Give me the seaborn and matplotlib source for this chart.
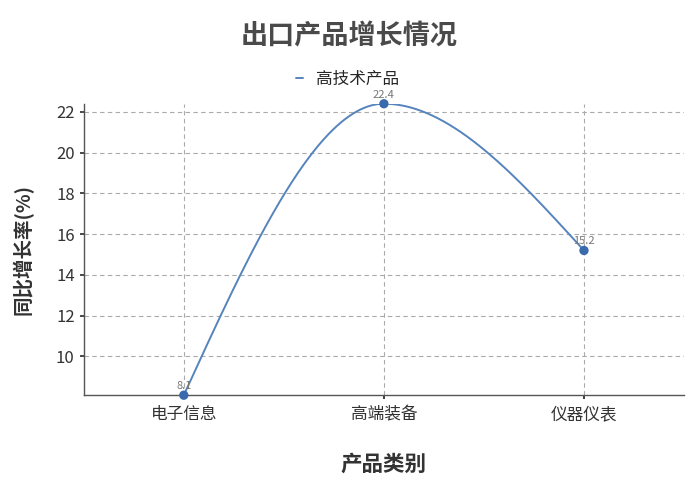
import numpy as np
import pandas as pd
import matplotlib.pyplot as plt
import seaborn as sns

categories = ["电子信息", "高端装备", "仪器仪表"]
growth = [8.1, 22.4, 15.2]
series_name = "高技术产品"

sns.set_theme(style="white")
plt.rcParams['font.family'] = ['Noto Sans CJK SC', 'DejaVu Sans']

df = pd.DataFrame({"类别": categories, "增长率": growth})
xpos = np.arange(len(categories))


def monotone_x(x, y, n=200):
    # same idea as d3 curveMonotoneX: flat at extrema, "natural" ends
    x = np.asarray(x, float)
    y = np.asarray(y, float)
    h = np.diff(x)
    d = np.diff(y) / h
    m = np.zeros_like(y)
    for i in range(1, len(y) - 1):
        p = (d[i - 1] * h[i] + d[i] * h[i - 1]) / (h[i - 1] + h[i])
        m[i] = (np.sign(d[i - 1]) + np.sign(d[i])) * min(abs(d[i - 1]), abs(d[i]), 0.5 * abs(p))
    m[0] = (3 * d[0] - m[1]) / 2
    m[-1] = (3 * d[-1] - m[-2]) / 2
    xs, ys = [], []
    for i in range(len(x) - 1):
        t = np.linspace(0, 1, n)
        h00 = 2 * t**3 - 3 * t**2 + 1
        h10 = t**3 - 2 * t**2 + t
        h01 = -2 * t**3 + 3 * t**2
        h11 = t**3 - t**2
        xs.append(x[i] + t * h[i])
        ys.append(h00 * y[i] + h10 * h[i] * m[i] + h01 * y[i + 1] + h11 * h[i] * m[i + 1])
    return np.concatenate(xs), np.concatenate(ys)


fig, ax = plt.subplots(figsize=(6.98, 4.94), dpi=100)
fig.subplots_adjust(left=0.12, right=0.98, top=0.79, bottom=0.2)

sx, sy = monotone_x(xpos, df["增长率"])
line_color = "#5584bd"
sns.lineplot(x=sx, y=sy, ax=ax, color=line_color, linewidth=1.4, label=series_name)
sns.scatterplot(x=xpos, y=df["增长率"], ax=ax, color="#3a6aae", s=45, zorder=5,
                edgecolor="none", legend=False, clip_on=False)

for x, v in zip(xpos, growth):
    ax.annotate(f"{v}", (x, v), xytext=(0, 3), textcoords="offset points",
                ha="center", va="bottom", fontsize=8, color="#777777")

ax.set_xlim(-0.5, 2.5)
ax.set_ylim(8.1, 22.4)
ax.set_xticks(xpos)
ax.set_xticklabels(categories, fontsize=12, color="#333333")
ax.set_yticks([10, 12, 14, 16, 18, 20, 22])
ax.tick_params(axis='y', labelsize=12, colors="#333333", length=3, left=True)
ax.tick_params(axis='x', length=3, bottom=True, pad=5)

ax.grid(True, linestyle=(0, (4, 3)), color="#aaaaaa", linewidth=0.8)
for side in ["top", "right"]:
    ax.spines[side].set_visible(False)
for side in ["left", "bottom"]:
    ax.spines[side].set_color("#555555")
    ax.spines[side].set_linewidth(1.0)

ax.set_xlabel("产品类别", fontsize=15.5, fontweight='bold', color="#333333", labelpad=22)
ax.set_ylabel("同比增长率(%)", fontsize=14, fontweight='bold', color="#333333", labelpad=16)
fig.suptitle("出口产品增长情况", fontsize=19.5, fontweight='bold', color="#4a4a4a", y=0.955)

leg = ax.legend(loc="lower center", bbox_to_anchor=(0.44, 1.02), frameon=False,
                fontsize=12, handlelength=0.4, handletextpad=0.8, borderpad=0.1)

fig.savefig("out.png", dpi=100)
